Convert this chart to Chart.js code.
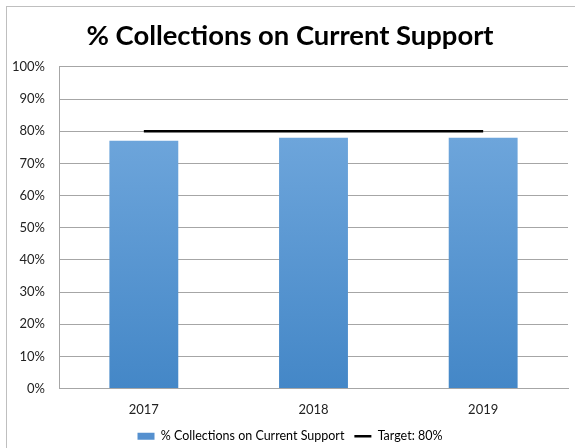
<!DOCTYPE html>
<html>
<head>
<meta charset="utf-8">
<script src="https://cdn.jsdelivr.net/npm/chart.js@4"></script>
<style>
  html, body { margin: 0; padding: 0; background: #fff; }
  #wrap { position: relative; width: 575px; height: 448px; overflow: hidden; }
  #frame { position: absolute; left: 6px; top: 6px; width: 600px; height: 500px;
           border-left: 1px solid #BFBFBF; border-top: 1px solid #BFBFBF; }
  canvas { position: absolute; left: 0; top: 0; }
</style>
</head>
<body>
<div id="wrap">
  <div id="frame"></div>
  <canvas id="c" width="575" height="448"></canvas>
</div>
<script>
// Share of collections on current support, by year, against an 80% target
const years = ['2017', '2018', '2019'];
const collectionsPct = [77, 78, 78];
const targetPct = [80, 80, 80];
const yTicks = [0, 10, 20, 30, 40, 50, 60, 70, 80, 90, 100];

const FONT = 'Lato, "Open Sans", sans-serif';

function barGradient(ctx) {
  const chart = ctx.chart;
  const area = chart.chartArea;
  if (!area) return '#5B9BD5';
  const y = chart.scales.y;
  const g = chart.ctx.createLinearGradient(0, y.getPixelForValue(78), 0, y.getPixelForValue(0));
  g.addColorStop(0, '#6DA5DB');
  g.addColorStop(1, '#4487C7');
  return g;
}

new Chart(document.getElementById('c'), {
  data: {
    labels: years,
    datasets: [
      {
        type: 'line',
        label: 'Target: 80%',
        data: targetPct,
        borderColor: '#000',
        backgroundColor: '#000',
        borderWidth: 2.5,
        pointRadius: 0,
        pointHoverRadius: 0,
        fill: false,
        order: 0
      },
      {
        type: 'bar',
        label: '% Collections on Current Support',
        data: collectionsPct,
        backgroundColor: barGradient,
        borderWidth: 0,
        categoryPercentage: 1,
        barPercentage: 0.406,
        order: 1
      }
    ]
  },
  options: {
    responsive: false,
    animation: false,
    devicePixelRatio: 1,
    layout: { padding: { left: 12, right: 7, top: 0, bottom: -4.5 } },
    plugins: {
      tooltip: { enabled: false },
      title: {
        display: true,
        text: '% Collections on Current Support',
        color: '#000',
        font: { family: FONT, size: 27.4, weight: 'bold' },
        padding: { top: 20, bottom: 14 }
      },
      legend: {
        position: 'bottom',
        reverse: true,
        labels: {
          color: '#222',
          font: { family: FONT, size: 12.5 },
          usePointStyle: true,
          pointStyleWidth: 17,
          boxHeight: 7,
          padding: 10,
          generateLabels(chart) {
            return chart.data.datasets.map((ds, i) => ({
              text: ds.label,
              datasetIndex: i,
              fillStyle: ds.type === 'bar' ? '#5590CF' : '#000',
              strokeStyle: ds.type === 'bar' ? '#5590CF' : '#000',
              lineWidth: ds.type === 'bar' ? 0 : 2.5,
              pointStyle: ds.type === 'bar' ? 'rect' : 'line',
              hidden: false
            }));
          }
        }
      }
    },
    scales: {
      x: {
        grid: { display: false, drawTicks: false },
        border: { display: true, color: '#A6A6A6', width: 1 },
        ticks: { color: '#222', font: { family: FONT, size: 13 }, padding: 14 },
        afterFit(s) { s.height = 31.5; }
      },
      y: {
        min: 0,
        max: 100,
        afterBuildTicks(s) { s.ticks = yTicks.map(v => ({ value: v })); },
        grid: { color: '#A6A6A6', lineWidth: 1, drawTicks: false },
        border: { display: true, color: '#A6A6A6', width: 1 },
        ticks: {
          color: '#222',
          font: { family: FONT, size: 13 },
          padding: 14,
          callback: v => v + '%'
        },
        afterFit(s) { s.width = 47; }
      }
    }
  }
});
</script>
</body>
</html>
